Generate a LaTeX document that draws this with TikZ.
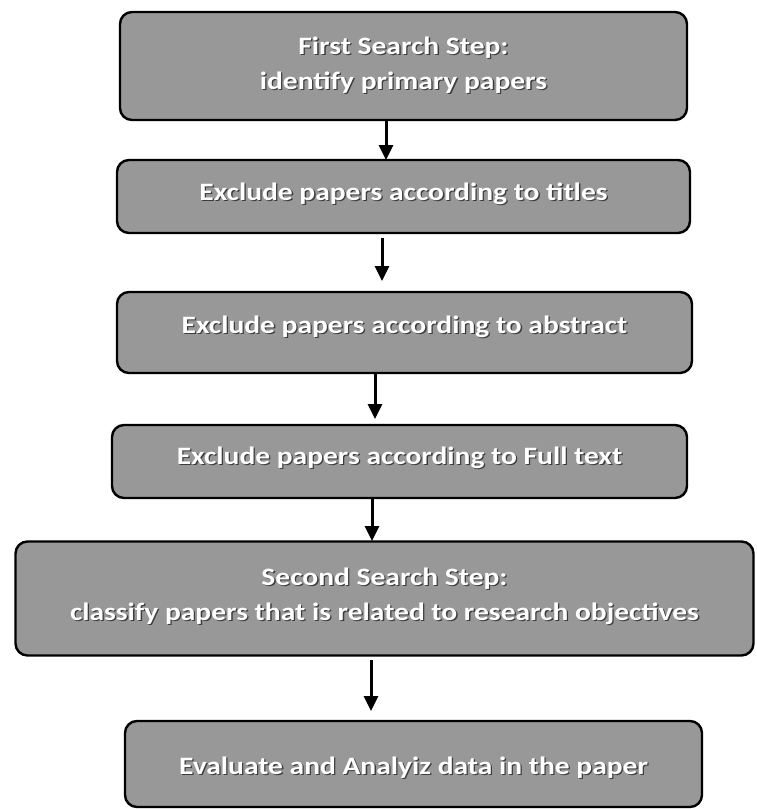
\documentclass[tikz,border=0pt]{standalone}
\usepackage{fontspec}
\setmainfont{Carlito}[FakeStretch=1.18]
\usetikzlibrary{arrows.meta}
\definecolor{boxgray}{RGB}{152,152,152}
\definecolor{shadowgray}{RGB}{60,60,60}
\newcommand\shtxt[2][0pt]{\raisebox{#1}[\height][\depth]{\makebox[0pt][l]{\hspace{1.3pt}\raisebox{-1.3pt}{\color{shadowgray}#2}}#2}}
\tikzset{
  stepbox/.style={draw=black, line width=2.4pt, fill=boxgray, rounded corners=12pt,
    text=white, font=\fontsize{25}{35}\selectfont\bfseries, align=center, inner sep=0pt},
  arr/.style={line width=3pt, -{Triangle[width=14pt,length=15pt]}}
}
\begin{document}
\begin{tikzpicture}[x=1pt,y=-1pt]
\useasboundingbox (0,0) rectangle (756,809);
\node[stepbox, minimum width=567pt, minimum height=108pt] (b1) at (403.5,66)
  {\shtxt{First Search Step:}\\\shtxt{identify primary papers}};
\node[stepbox, minimum width=573pt, minimum height=73pt] (b2) at (403.5,196.5)
  {\shtxt[2pt]{Exclude papers according to titles}};
\node[stepbox, minimum width=575pt, minimum height=81pt] (b3) at (404.5,332.5)
  {\shtxt[5pt]{Exclude papers according to abstract}};
\node[stepbox, minimum width=575pt, minimum height=73pt] (b4) at (399.5,461.5)
  {\shtxt[3pt]{Exclude papers according to Full text}};
\node[stepbox, minimum width=738pt, minimum height=114pt] (b5) at (384.5,598.5)
  {\shtxt[2pt]{Second Search Step:}\\\shtxt[2pt]{classify papers that is related to research objectives}};
\node[stepbox, minimum width=577pt, minimum height=86pt] (b6) at (413.5,764)
  {\shtxt[-4pt]{Evaluate and Analyiz data in the paper}};
% arrow anchor coordinates
\coordinate (s1) at (386,120);  \coordinate (e1) at (386,160);
\coordinate (s2) at (382,238);  \coordinate (e2) at (382,281);
\coordinate (s3) at (375,373);  \coordinate (e3) at (375,419);
\coordinate (s4) at (372,498);  \coordinate (e4) at (372,541);
\coordinate (s5) at (371,660);  \coordinate (e5) at (371,711);
\draw[arr] (s1) -- (e1);
\draw[arr] (s2) -- (e2);
\draw[arr] (s3) -- (e3);
\draw[arr] (s4) -- (e4);
\draw[arr] (s5) -- (e5);
\end{tikzpicture}
\end{document}
